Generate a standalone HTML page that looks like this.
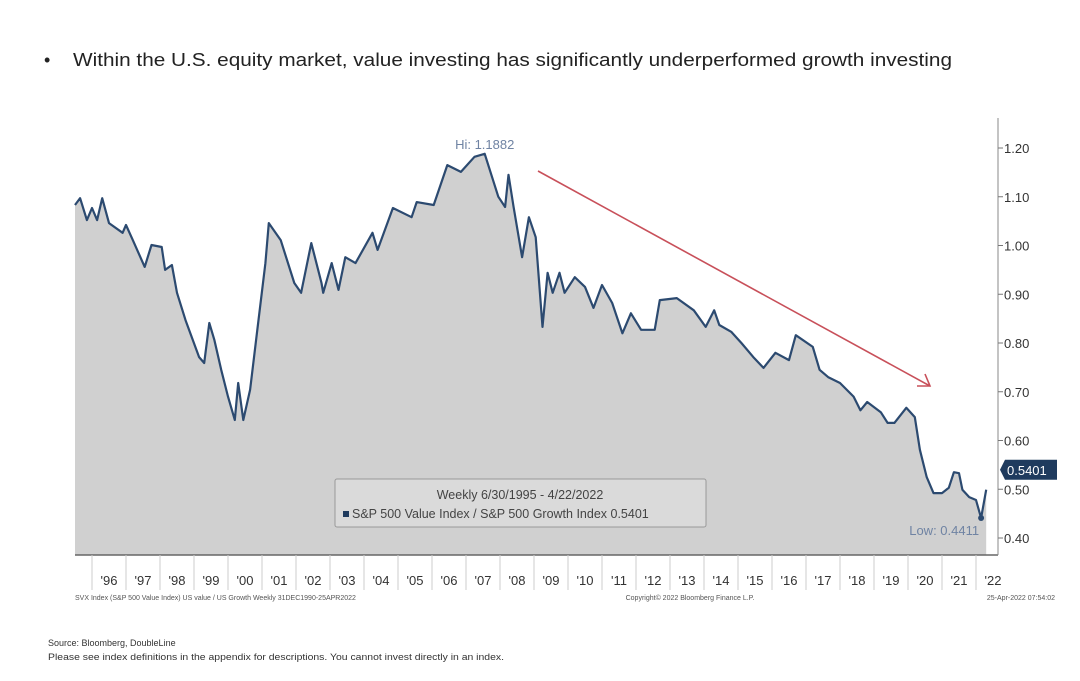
<!DOCTYPE html>
<html><head><meta charset="utf-8"><style>
html,body{margin:0;padding:0;background:#fff;}
svg{display:block;font-family:"Liberation Sans",sans-serif;}
</style></head><body>
<svg width="1080" height="681" viewBox="0 0 1080 681">
<text x="44" y="66" font-size="18" fill="#222">•</text>
<text x="73" y="66" font-size="18" fill="#222" textLength="879" lengthAdjust="spacingAndGlyphs">Within the U.S. equity market, value investing has significantly underperformed growth investing</text>
<g id="plot"></g>
<text x="48" y="646" font-size="9" fill="#333">Source: Bloomberg, DoubleLine</text>
<text x="48" y="660" font-size="9" fill="#333" textLength="456" lengthAdjust="spacingAndGlyphs">Please see index definitions in the appendix for descriptions. You cannot invest directly in an index.</text>
</svg>
<script>
const dates=[1995.5,1995.65,1995.85,1996.0,1996.15,1996.3,1996.5,1996.9,1997.0,1997.2,1997.55,1997.75,1998.05,1998.15,1998.35,1998.5,1998.75,1999.15,1999.3,1999.45,1999.6,1999.8,2000.0,2000.2,2000.3,2000.45,2000.65,2000.85,2001.1,2001.2,2001.55,2001.95,2002.15,2002.45,2002.75,2002.8,2003.05,2003.25,2003.45,2003.75,2004.25,2004.4,2004.85,2005.4,2005.55,2006.05,2006.45,2006.85,2007.25,2007.55,2007.95,2008.15,2008.25,2008.4,2008.65,2008.85,2009.05,2009.25,2009.4,2009.55,2009.75,2009.9,2010.2,2010.5,2010.75,2011.0,2011.3,2011.6,2011.85,2012.15,2012.55,2012.7,2013.2,2013.7,2014.05,2014.3,2014.45,2014.8,2015.1,2015.45,2015.75,2016.1,2016.5,2016.7,2017.2,2017.4,2017.65,2018.0,2018.4,2018.6,2018.8,2019.2,2019.4,2019.6,2019.95,2020.2,2020.35,2020.55,2020.75,2021.0,2021.2,2021.35,2021.5,2021.6,2021.8,2022.0,2022.15,2022.3];
const values=[1.083,1.097,1.052,1.077,1.052,1.097,1.046,1.026,1.042,1.011,0.956,1.001,0.997,0.95,0.96,0.903,0.847,0.771,0.759,0.841,0.806,0.745,0.69,0.642,0.718,0.642,0.704,0.82,0.964,1.046,1.011,0.923,0.903,1.005,0.923,0.903,0.964,0.909,0.976,0.964,1.026,0.991,1.077,1.058,1.089,1.083,1.165,1.151,1.182,1.188,1.1,1.079,1.145,1.079,0.976,1.058,1.017,0.833,0.944,0.903,0.944,0.903,0.935,0.915,0.872,0.919,0.882,0.82,0.861,0.827,0.827,0.888,0.892,0.867,0.833,0.867,0.837,0.823,0.8,0.771,0.749,0.78,0.765,0.816,0.792,0.745,0.73,0.718,0.69,0.662,0.679,0.658,0.636,0.636,0.667,0.648,0.581,0.525,0.492,0.492,0.503,0.535,0.533,0.499,0.484,0.478,0.441,0.499,0.505,0.54];
const yTicks=[0.40,0.50,0.60,0.70,0.80,0.90,1.00,1.10,1.20];
const yearLabels=["'96","'97","'98","'99","'00","'01","'02","'03","'04","'05","'06","'07","'08","'09","'10","'11","'12","'13","'14","'15","'16","'17","'18","'19","'20","'21","'22"];
const lastValue="0.5401", hiLabel="Hi: 1.1882", lowLabel="Low: 0.4411";

const NS="http://www.w3.org/2000/svg";
const g=document.getElementById('plot');
const L=75,B=555,R=998;
const xs=d=>92+(d-1996)*34;
const ys=v=>148+(1.20-v)*487.5;
function mk(t,a,p){const e=document.createElementNS(NS,t);for(const k in a)e.setAttribute(k,a[k]);(p||g).appendChild(e);return e;}

// area + line
let pts=dates.map((d,i)=>xs(d).toFixed(1)+','+ys(values[i]).toFixed(1));
const area=mk('path',{d:'M'+xs(dates[0])+','+B+' L'+pts.join(' L')+' L'+xs(dates[dates.length-1])+','+B+' Z',fill:'#d0d0d0'});


const line=mk('path',{d:'M'+pts.join(' L'),fill:'none',stroke:'#2c4a70','stroke-width':2.2,'stroke-linejoin':'round'});



// axes
const xa=mk('line',{x1:L,y1:B,x2:R,y2:B,stroke:'#666','stroke-width':1.5});


const ya=mk('line',{x1:R,y1:118,x2:R,y2:B,stroke:'#888','stroke-width':1});


yTicks.forEach(v=>{
  const y=ys(v);
  const tk=mk('line',{x1:R,y1:y,x2:R+5,y2:y,stroke:'#777'});
  
  
  const t=mk('text',{x:R+6,y:y+5,'font-size':13,fill:'#333'});t.textContent=v.toFixed(2);
  
  
});
yearLabels.forEach((s,i)=>{
  const x0=xs(1996+i);
  const tk=mk('line',{x1:x0,y1:B,x2:x0,y2:590,stroke:'#ccc'});
  
  
  const t=mk('text',{x:x0+17,y:585,'font-size':13,fill:'#333','text-anchor':'middle'});t.textContent=s;
  
  
});

// hi / low
let hi=values.indexOf(Math.max(...values)), lo=values.indexOf(Math.min(...values));
const ht=mk('text',{x:xs(dates[hi]),y:ys(values[hi])-5,'font-size':13,fill:'#6f83a3','text-anchor':'middle'});ht.textContent=hiLabel;


const ld=mk('circle',{cx:xs(dates[lo]),cy:ys(values[lo]),r:3,fill:'#2c4a70'});


const lt=mk('text',{x:xs(dates[lo])-2,y:ys(values[lo])+17,'font-size':13,fill:'#6f83a3','text-anchor':'end'});lt.textContent=lowLabel;



// last value tag
const lv=ys(values[values.length-1]);
const tag=mk('path',{d:`M${R+2},${lv} L${R+7},${lv-10} L1057,${lv-10} L1057,${lv+10} L${R+7},${lv+10} Z`,fill:'#1f3b5e'});


const tt=mk('text',{x:1007,y:lv+5,'font-size':13,fill:'#fff'});tt.textContent=lastValue;



// trend arrow
const ar=mk('g',{stroke:'#c8505a','stroke-width':1.6,fill:'none'});


mk('line',{x1:538,y1:171,x2:930,y2:386},ar);
mk('polyline',{points:'917,386 930,386 925,374'},ar);

// legend
const lg=mk('g',{});


mk('rect',{x:335,y:479,width:371,height:48,rx:2,fill:'#dadada',stroke:'#999'},lg);
const l1=mk('text',{x:520,y:499,'font-size':12.5,fill:'#444','text-anchor':'middle'},lg);l1.textContent='Weekly 6/30/1995 - 4/22/2022';
mk('rect',{x:343,y:511,width:6,height:6,fill:'#1f3b5e'},lg);
const l2=mk('text',{x:352,y:518,'font-size':12.5,fill:'#444'},lg);l2.textContent='S&P 500 Value Index / S&P 500 Growth Index 0.5401';



// chart footnotes
[[75,'SVX Index (S&P 500 Value Index) US value / US Growth  Weekly 31DEC1990-25APR2022',370,'start','chart-source-note'],[690,'Copyright© 2022 Bloomberg Finance L.P.',140,'middle','copyright-note'],[1055,'25-Apr-2022 07:54:02',90,'end','timestamp-note']].forEach(f=>{
  const t=mk('text',{x:f[0],y:600,'font-size':7,fill:'#555','text-anchor':f[3]});t.textContent=f[1];
  
  
});
</script>
</body></html>
